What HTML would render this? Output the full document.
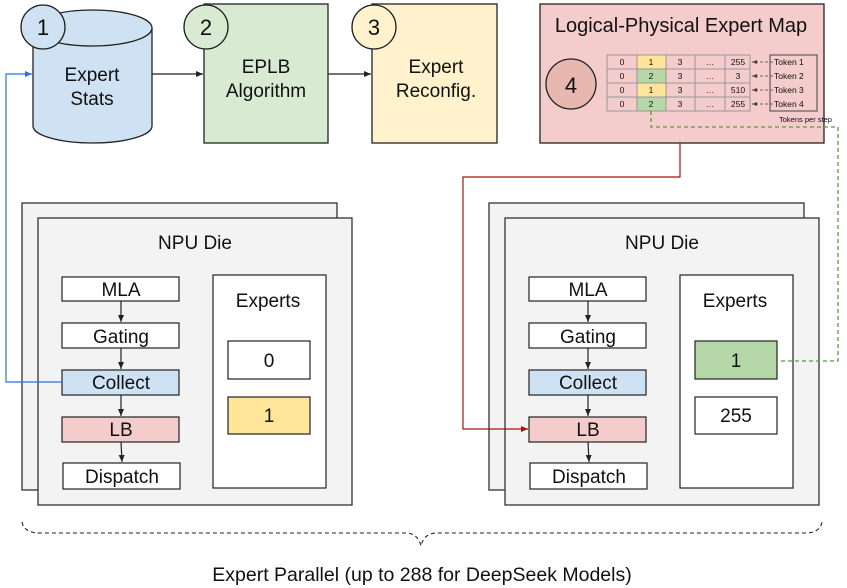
<!DOCTYPE html>
<html><head><style>body{margin:0;background:#fff}svg{display:block}text{font-family:"Liberation Sans",sans-serif;fill:#111}</style></head><body>
<svg width="847" height="588" viewBox="0 0 847 588" xmlns="http://www.w3.org/2000/svg">
<defs>
<marker id="ak" markerWidth="8" markerHeight="8" refX="7" refY="4" orient="auto" markerUnits="userSpaceOnUse"><path d="M0,1 L7,4 L0,7 z" fill="#222"/></marker>
<marker id="ab" markerWidth="8" markerHeight="8" refX="7" refY="4" orient="auto" markerUnits="userSpaceOnUse"><path d="M0,1 L7,4 L0,7 z" fill="#2f6fe0"/></marker>
<marker id="ar" markerWidth="8" markerHeight="8" refX="7" refY="4" orient="auto" markerUnits="userSpaceOnUse"><path d="M0,1 L7,4 L0,7 z" fill="#a11"/></marker>
<marker id="as" markerWidth="6" markerHeight="6" refX="5" refY="3" orient="auto" markerUnits="userSpaceOnUse"><path d="M0,1 L5,3 L0,5 z" fill="#444"/></marker>
</defs>
<path d="M33,28 L33,126 A59.5,17 0 0 0 152,126 L152,28" fill="#cfe2f3" stroke="#222" stroke-width="1.3"/>
<ellipse cx="92.5" cy="28" rx="59.5" ry="18" fill="#cfe2f3" stroke="#222" stroke-width="1.3"/>
<circle cx="43" cy="27" r="22" fill="#cfe2f3" stroke="#222" stroke-width="1.3"/>
<text x="43" y="35" font-size="22" text-anchor="middle">1</text>
<text x="92" y="81" font-size="19" text-anchor="middle">Expert</text>
<text x="92" y="105" font-size="19" text-anchor="middle">Stats</text>
<rect x="204" y="4" width="124" height="139" fill="#d9ead3" stroke="#222" stroke-width="1.3"/>
<circle cx="206" cy="27" r="22" fill="#d9ead3" stroke="#222" stroke-width="1.3"/>
<text x="206" y="35" font-size="22" text-anchor="middle">2</text>
<text x="266" y="73" font-size="19" text-anchor="middle">EPLB</text>
<text x="266" y="97" font-size="19" text-anchor="middle">Algorithm</text>
<rect x="372" y="4" width="125" height="139" fill="#fff2cc" stroke="#222" stroke-width="1.3"/>
<circle cx="374" cy="27" r="22" fill="#fff2cc" stroke="#222" stroke-width="1.3"/>
<text x="374" y="35" font-size="22" text-anchor="middle">3</text>
<text x="436" y="73" font-size="19" text-anchor="middle">Expert</text>
<text x="436" y="97" font-size="19" text-anchor="middle">Reconfig.</text>
<line x1="152" y1="74" x2="203" y2="74" stroke="#222" stroke-width="1.2" marker-end="url(#ak)"/>
<line x1="328" y1="74" x2="371" y2="74" stroke="#222" stroke-width="1.2" marker-end="url(#ak)"/>
<rect x="540" y="4" width="284" height="139" fill="#f4cccc" stroke="#222" stroke-width="1.3"/>
<text x="681" y="32" font-size="20" text-anchor="middle">Logical-Physical Expert Map</text>
<circle cx="571" cy="84" r="25" fill="#e6b8af" stroke="#222" stroke-width="1.3"/>
<text x="571" y="93" font-size="22" text-anchor="middle">4</text>
<g font-size="8.5" text-anchor="middle">
<rect x="637" y="55" width="29" height="14" fill="#ffe599"/><rect x="637" y="69" width="29" height="14" fill="#b6d7a8"/>
<rect x="637" y="83" width="29" height="14" fill="#ffe599"/><rect x="637" y="97" width="29" height="14" fill="#b6d7a8"/>
<g stroke="#999" stroke-width="1" fill="none">
<rect x="607" y="55" width="143" height="56"/>
<line x1="607" y1="69" x2="750" y2="69"/><line x1="607" y1="83" x2="750" y2="83"/><line x1="607" y1="97" x2="750" y2="97"/>
<line x1="637" y1="55" x2="637" y2="111"/><line x1="666" y1="55" x2="666" y2="111"/><line x1="695" y1="55" x2="695" y2="111"/><line x1="725" y1="55" x2="725" y2="111"/>
</g>
<text x="622" y="65">0</text><text x="651" y="65">1</text><text x="680" y="65">3</text><text x="710" y="65">…</text><text x="738" y="65">255</text>
<text x="622" y="79">0</text><text x="651" y="79">2</text><text x="680" y="79">3</text><text x="710" y="79">…</text><text x="738" y="79">3</text>
<text x="622" y="93">0</text><text x="651" y="93">1</text><text x="680" y="93">3</text><text x="710" y="93">…</text><text x="738" y="93">510</text>
<text x="622" y="107">0</text><text x="651" y="107">2</text><text x="680" y="107">3</text><text x="710" y="107">…</text><text x="738" y="107">255</text>
</g>
<rect x="770" y="55" width="47" height="56" fill="none" stroke="#444" stroke-width="1"/>
<g font-size="8.5">
<text x="774" y="65">Token 1</text><text x="774" y="79">Token 2</text><text x="774" y="93">Token 3</text><text x="774" y="107">Token 4</text>
<text x="779" y="122" font-size="7.5">Tokens per step</text>
</g>
<g stroke="#444" stroke-width="0.8" stroke-dasharray="3,2">
<line x1="773" y1="62" x2="752" y2="62" marker-end="url(#as)"/><line x1="773" y1="76" x2="752" y2="76" marker-end="url(#as)"/>
<line x1="773" y1="90" x2="752" y2="90" marker-end="url(#as)"/><line x1="773" y1="104" x2="752" y2="104" marker-end="url(#as)"/>
</g>
<rect x="22" y="203" width="315" height="287" fill="#f3f3f3" stroke="#333" stroke-width="1.3"/>
<rect x="38" y="218" width="314" height="287" fill="#f3f3f3" stroke="#333" stroke-width="1.3"/>
<text x="195" y="249" font-size="19" text-anchor="middle">NPU Die</text>
<g stroke="#222" stroke-width="1.2">
<rect x="62" y="277" width="117" height="24" fill="#fff"/>
<rect x="62" y="323" width="117" height="25" fill="#fff"/>
<rect x="62" y="370" width="117" height="25" fill="#cfe2f3"/>
<rect x="62" y="417" width="117" height="25" fill="#f4cccc"/>
<rect x="63" y="463" width="117" height="26" fill="#fff"/>
<line x1="121" y1="301" x2="121" y2="322" marker-end="url(#ak)"/>
<line x1="121" y1="348" x2="121" y2="369" marker-end="url(#ak)"/>
<line x1="121" y1="395" x2="121" y2="416" marker-end="url(#ak)"/>
<line x1="121" y1="442" x2="122" y2="462" marker-end="url(#ak)"/>
<rect x="213" y="275" width="113" height="213" fill="#fff"/>
<rect x="228" y="341" width="82" height="38" fill="#fff"/>
<rect x="228" y="397" width="82" height="37" fill="#ffe599"/>
</g>
<g font-size="19" text-anchor="middle">
<text x="121" y="296">MLA</text><text x="121" y="343">Gating</text><text x="121" y="389">Collect</text><text x="121" y="436">LB</text><text x="122" y="483">Dispatch</text>
<text x="268" y="307">Experts</text><text x="269" y="367">0</text><text x="269" y="422">1</text>
</g>
<g transform="translate(467,0)">
<rect x="22" y="203" width="315" height="287" fill="#f3f3f3" stroke="#333" stroke-width="1.3"/>
<rect x="38" y="218" width="314" height="287" fill="#f3f3f3" stroke="#333" stroke-width="1.3"/>
<text x="195" y="249" font-size="19" text-anchor="middle">NPU Die</text>
<g stroke="#222" stroke-width="1.2">
<rect x="62" y="277" width="117" height="24" fill="#fff"/>
<rect x="62" y="323" width="117" height="25" fill="#fff"/>
<rect x="62" y="370" width="117" height="25" fill="#cfe2f3"/>
<rect x="62" y="417" width="117" height="25" fill="#f4cccc"/>
<rect x="63" y="463" width="117" height="26" fill="#fff"/>
<line x1="121" y1="301" x2="121" y2="322" marker-end="url(#ak)"/>
<line x1="121" y1="348" x2="121" y2="369" marker-end="url(#ak)"/>
<line x1="121" y1="395" x2="121" y2="416" marker-end="url(#ak)"/>
<line x1="121" y1="442" x2="122" y2="462" marker-end="url(#ak)"/>
<rect x="213" y="275" width="113" height="213" fill="#fff"/>
<rect x="228" y="341" width="82" height="38" fill="#b6d7a8"/>
<rect x="228" y="397" width="82" height="37" fill="#fff"/>
</g>
<g font-size="19" text-anchor="middle">
<text x="121" y="296">MLA</text><text x="121" y="343">Gating</text><text x="121" y="389">Collect</text><text x="121" y="436">LB</text><text x="122" y="483">Dispatch</text>
<text x="268" y="307">Experts</text><text x="269" y="367">1</text><text x="269" y="422">255</text>
</g>
</g>
<polyline points="62,382 6,382 6,74 32,74" fill="none" stroke="#2f6fe0" stroke-width="1.2" marker-end="url(#ab)"/>
<polyline points="680,143 680,177 463,177 463,429 528,429" fill="none" stroke="#a11" stroke-width="1.2" marker-end="url(#ar)"/>
<polyline points="651,111 651,127 838,127 838,361 778,361" fill="none" stroke="#5a9a3a" stroke-width="1.3" stroke-dasharray="4,3"/>
<path d="M22,522 Q24,533 40,533 L405,533 Q418,533 421,546 Q424,533 437,533 L805,533 Q820,533 822,522" fill="none" stroke="#222" stroke-width="1.1" stroke-dasharray="4,3"/>
<text x="422" y="581" font-size="19.5" text-anchor="middle">Expert Parallel (up to 288 for DeepSeek Models)</text>
</svg>
</body></html>
